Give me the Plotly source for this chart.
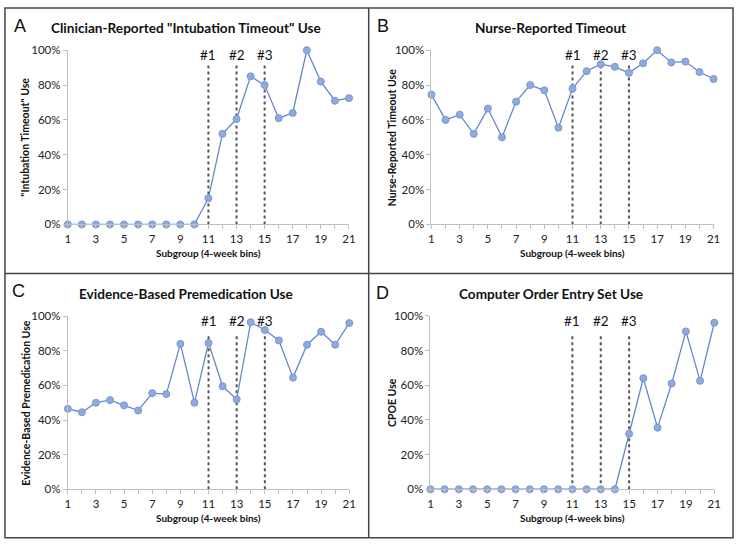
import plotly.graph_objects as go

subgroups = list(range(1, 22))

clinician_timeout = [0, 0, 0, 0, 0, 0, 0, 0, 0, 0, 15, 52, 60.5, 85, 80, 61, 64, 100, 82, 71, 72.5]
nurse_timeout = [74.5, 60, 63, 52, 66.5, 50, 70.5, 80, 77, 55.5, 78, 88, 92, 90.5, 87, 92.5, 100, 93, 93.5, 87.5, 83.5]
premedication = [46.5, 44.5, 50, 51.5, 48.5, 45.5, 55.5, 55, 84, 50, 84.5, 59.5, 52, 96.5, 92, 86, 64.5, 83.5, 91, 83.5, 96]
cpoe = [0, 0, 0, 0, 0, 0, 0, 0, 0, 0, 0, 0, 0, 0, 32, 64, 35.5, 61, 91, 62.5, 96]

intervention_x = [11, 13, 15]
intervention_labels = ["#1", "#2", "#3"]

y_tick_vals = [0, 20, 40, 60, 80, 100]
y_tick_text = ["0%", "20%", "40%", "60%", "80%", "100%"]

panel_letters = ["A", "B", "C", "D"]
panel_titles = ['Clinician-Reported "Intubation Timeout" Use', "Nurse-Reported Timeout",
                "Evidence-Based Premedication Use", "Computer Order Entry Set Use"]
y_titles = ['"Intubation Timeout" Use', "Nurse-Reported Timeout Use",
            "Evidence-Based Premedication Use", "CPOE Use"]
x_title = "Subgroup (4-week bins)"
series = [clinician_timeout, nurse_timeout, premedication, cpoe]
line_tops = [91.5, 91.5, 90, 90]

W, H = 742, 547
# plot areas in pixels: (left, right, top, bottom)
areas = [(65.7, 350.7, 44.3, 222.7), (434.3, 720.3, 44.3, 222.7),
         (65.7, 351.0, 316.7, 494.0), (433.3, 721.0, 316.3, 494.0)]
title_pos = [(185, 21.7), (555, 21.7), (186, 293.7), (555, 293.7)]
letter_pos = [(17, 19), (385, 19), (16, 291), (385, 293)]
ytitle_x = [22.7, 394.3, 23.3, 393.7]

FONT = "Lato"
LINE_COLOR = "#6787CC"
MARK_COLOR = "#8FAADD"
AXIS_COLOR = "#BFBFBF"

fig = go.Figure()
layout = dict(width=W, height=H, margin=dict(l=0, r=0, t=0, b=0),
              paper_bgcolor="white", plot_bgcolor="white", showlegend=False,
              font=dict(family=FONT, size=11, color="#222"))
annotations = []
shapes = []

for i in range(4):
    xa = "x" if i == 0 else f"x{i+1}"
    ya = "y" if i == 0 else f"y{i+1}"
    l, r, t, b = areas[i]
    layout["xaxis" if i == 0 else f"xaxis{i+1}"] = dict(
        domain=[l / W, r / W], anchor=ya, range=[1, 21],
        tickvals=subgroups, ticktext=[str(v) if v % 2 == 1 else "" for v in subgroups],
        ticks="outside", ticklen=4, tickcolor=AXIS_COLOR, showline=True, linecolor=AXIS_COLOR,
        linewidth=1, showgrid=False, zeroline=False, tickfont=dict(size=11.5, family=FONT, color="#222"))
    layout["yaxis" if i == 0 else f"yaxis{i+1}"] = dict(
        domain=[1 - b / H, 1 - t / H], anchor=xa, range=[0, 100],
        tickvals=y_tick_vals, ticktext=y_tick_text,
        ticks="outside", ticklen=4, tickcolor=AXIS_COLOR, showline=True, linecolor=AXIS_COLOR,
        linewidth=1, showgrid=False, zeroline=False, tickfont=dict(size=11.5, family=FONT, color="#222"))

    # intervention lines
    for k, xv in enumerate(intervention_x):
        fig.add_trace(go.Scatter(x=[xv, xv], y=[0, line_tops[i]], mode="lines", xaxis=xa, yaxis=ya,
                                 line=dict(color="#555555", width=2, dash="dot"), hoverinfo="skip"))
        annotations.append(dict(x=xv, y=97, xref=xa, yref=ya, text=intervention_labels[k],
                                showarrow=False, font=dict(size=13.5, family=FONT, color="#111")))

    fig.add_trace(go.Scatter(x=subgroups, y=series[i], mode="lines+markers", xaxis=xa, yaxis=ya,
                             cliponaxis=False,
                             line=dict(color=LINE_COLOR, width=1.3),
                             marker=dict(size=7, color=MARK_COLOR, line=dict(color="#7696D4", width=1))))

    tx, ty = title_pos[i]
    annotations.append(dict(x=tx / W, y=1 - ty / H, xref="paper", yref="paper", text=f"<b>{panel_titles[i]}</b>",
                            showarrow=False, xanchor="center", yanchor="middle",
                            font=dict(size=13.6, family=FONT, color="#111")))
    lx, ly = letter_pos[i]
    annotations.append(dict(x=lx / W, y=1 - ly / H, xref="paper", yref="paper", text=panel_letters[i],
                            showarrow=False, xanchor="center", yanchor="middle",
                            font=dict(size=18, family="Liberation Sans", color="#111")))
    annotations.append(dict(x=(l + r) / 2 / W, y=1 - 251.7 / H if i < 2 else 1 - (251.7 + 272) / H,
                            xref="paper", yref="paper", text=f"<b>{x_title}</b>",
                            showarrow=False, xanchor="center", yanchor="middle",
                            font=dict(size=10, family=FONT, color="#111")))
    annotations.append(dict(x=ytitle_x[i] / W, y=1 - (t + b) / 2 / H, xref="paper", yref="paper",
                            text=f"<b>{y_titles[i]}</b>", textangle=-90,
                            showarrow=False, xanchor="center", yanchor="middle",
                            font=dict(size=10.5, family=FONT, color="#111")))

# panel borders
border = dict(type="line", xref="paper", yref="paper", line=dict(color="#444", width=1.5))
shapes.append(dict(type="rect", xref="paper", yref="paper", x0=2 / W, x1=740 / W, y0=1 - 543.7 / H, y1=1 - 1 / H,
                   line=dict(color="#444", width=1.5)))
shapes.append(dict(border, x0=370.7 / W, x1=370.7 / W, y0=1 - 543.7 / H, y1=1 - 1 / H))
shapes.append(dict(border, x0=2 / W, x1=740 / W, y0=1 - 273 / H, y1=1 - 273 / H))

layout["annotations"] = annotations
layout["shapes"] = shapes
fig.update_layout(**layout)
fig.write_html("out.html", config={"displayModeBar": False},
               post_script="document.body.style.margin='0';document.body.style.overflow='hidden';")
